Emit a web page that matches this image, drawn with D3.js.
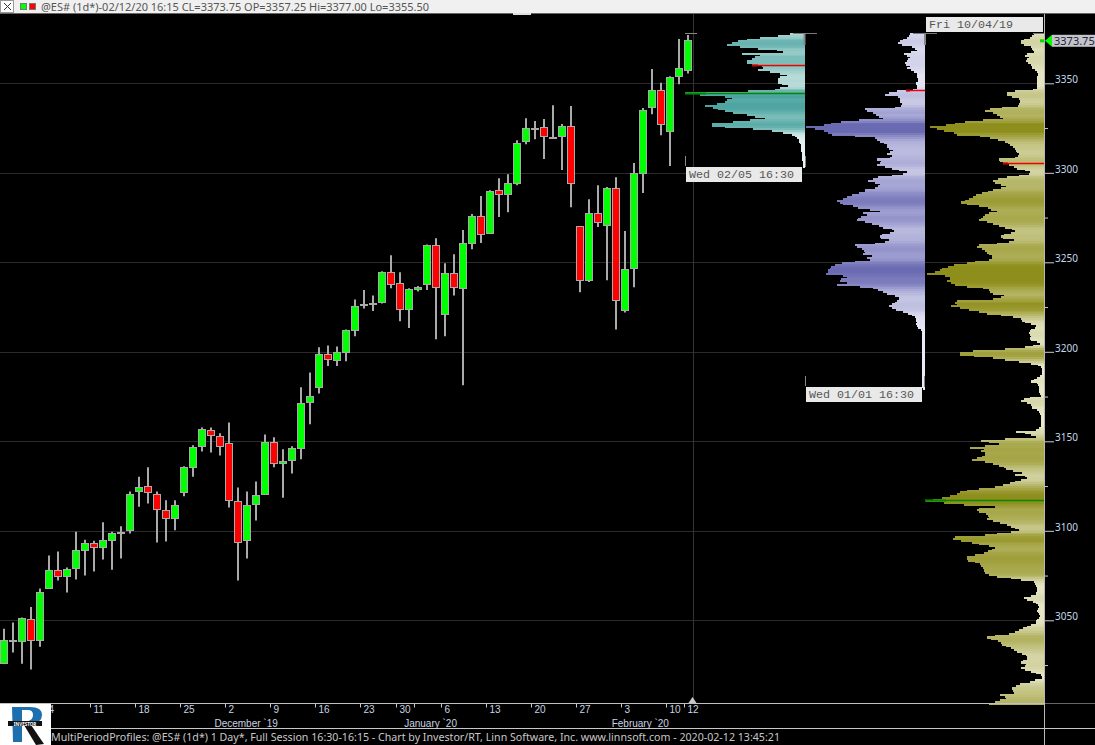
<!DOCTYPE html>
<html>
<head>
<meta charset="utf-8">
<title>MultiPeriodProfiles @ES#</title>
<script src="https://d3js.org/d3.v7.min.js"></script>
<style>
html,body{margin:0;padding:0;background:#000;overflow:hidden}
svg{display:block}
text{font-family:"Noto Sans",sans-serif}
</style>
</head>
<body>
<svg id="chart" width="1095" height="745"></svg>
<script>
// ---------- daily bars ----------
const opens = [3025.75,3038.75,3038,3050.5,3038.75,3067.75,3077.75,3074.5,3079,3089,3093,3090.75,3094.5,3099,3100.25,3122,3124.75,3120.25,3111.25,3107,3121.5,3135.5,3147.25,3156,3152.75,3148.75,3116.5,3094.5,3114.75,3120.25,3149.5,3137.75,3139.25,3146,3171.75,3180.25,3198.5,3195.25,3199.75,3212,3226.5,3227,3227.75,3244.5,3238.25,3223.75,3235,3237.75,3259.5,3221,3244,3235.5,3260.75,3275.75,3266.25,3290.25,3288,3294.25,3317.25,3325,3325.5,3320,3320.5,3326,3270.25,3240,3277.5,3270.75,3291.5,3223.25,3246.75,3299.75,3336.75,3345.75,3323.25,3354,3357.25];
const highs = [3045.25,3048.75,3051.5,3057.5,3067.75,3086.25,3088.5,3079.5,3099.5,3095,3094.5,3104.75,3099.5,3102.5,3122,3130.25,3135.5,3122,3117,3117,3136,3147.75,3157.75,3157.75,3154.5,3160.5,3124.25,3122,3127.5,3153.75,3152.25,3145.5,3147.25,3180.25,3188.5,3202.5,3203.5,3203,3212.5,3229.25,3234.5,3231.5,3245,3254,3244.5,3235.5,3236.75,3260,3263.5,3249.5,3254.5,3268,3277,3287,3290.25,3297,3299.25,3318.25,3330.5,3329,3330,3337.75,3327.25,3337.25,3270.25,3285.25,3293,3292,3297.5,3267.5,3305.5,3336.25,3358,3350.25,3354,3374.75,3377];
const lows = [3025.75,3032,3025.75,3022.5,3035.25,3067.75,3072.25,3065.5,3072.75,3075,3077.25,3084,3078.25,3084.5,3098.5,3113.5,3115.25,3093.5,3094,3100.25,3119.25,3130.25,3144.25,3143.75,3142,3113,3072.25,3084.5,3105.75,3120.25,3135.5,3118.5,3132,3140,3159.5,3176.75,3192,3192,3194.75,3208.75,3224.25,3222.75,3227,3235.5,3217,3213.25,3233.75,3234.5,3207,3208.75,3231.5,3181.25,3257.25,3260.75,3266.25,3275.25,3278,3293,3316,3318.75,3307.75,3319.5,3301.5,3280.75,3233.25,3239,3269.75,3240,3212.5,3222,3236,3288.75,3332.75,3321,3303.75,3349.5,3355.5];
const closes = [3038.75,3038.75,3051,3038.75,3065.5,3077.75,3074.5,3078.25,3089,3093,3090.75,3094.5,3098.5,3099,3120.25,3124.25,3121.5,3112,3107,3114.25,3135.5,3146.5,3156.75,3153.25,3147.25,3117,3093.5,3114.25,3119.75,3149.5,3137.75,3138.75,3146,3171.25,3175,3198.5,3195.75,3199.75,3212,3225.5,3226.5,3227,3244.5,3237.75,3223.75,3235,3236,3259.5,3236,3244,3236,3260.75,3275.75,3265.75,3289.75,3288,3294.25,3316.5,3324.5,3325,3320.5,3320,3326,3294.25,3240,3277.5,3272,3291,3228.75,3246.25,3299.75,3335,3345.75,3326.75,3353.5,3358,3373.75];

// ---------- volume-at-price profiles (one value per point, from the top price downwards) ----------
const profileTopPrice = 3378;
const profileFeb5 = [15,27,45,58,67,73,78,65,47,28,22,63,45,50,53,58,58,53,43,42,47,35,25,18,25,27,27,27,23,17,25,30,57,120,105,80,73,78,80,88,100,92,87,80,72,58,50,40,55,72,93,93,80,52,33,22,13,10,8,6,6,5,4,4,4,4,3,3,3,3,3,2,2,2,2];
const profileJan1 = [15,16,18,22,25,27,23,13,10,8,14,21,18,15,17,18,20,19,15,18,14,11,8,8,8,7,7,9,9,8,8,12,28,36,40,27,25,25,25,23,24,30,60,58,52,49,46,42,66,84,94,101,119,110,101,97,93,70,50,48,45,41,38,38,36,32,35,38,33,35,48,44,45,48,40,33,26,18,22,33,47,52,57,50,45,47,50,60,60,66,73,78,82,88,85,82,72,67,55,45,62,58,64,67,68,60,53,46,42,33,31,35,43,45,44,36,40,50,70,68,63,61,60,62,53,58,55,70,83,90,94,95,97,97,99,82,78,84,85,78,88,65,52,47,42,38,30,26,26,28,30,33,36,33,29,22,17,13,10,9,9,8,9,8,7,4,3,3,3,3,3,3,3,3,3,3,3,3,3,3,3,3,3,3,3,3,3,3,3,3,3,3,3,3,3,3,3,3,2];
const profileOct4 = [11,13,15,21,24,24,21,14,13,12,11,18,20,16,18,19,17,14,13,13,10,8,7,7,8,8,8,8,8,8,8,12,30,38,38,33,26,25,25,26,27,43,55,60,52,48,45,42,62,80,90,99,115,108,101,91,88,65,55,47,40,37,35,32,30,29,28,26,27,30,46,45,42,36,31,28,20,15,16,26,38,47,52,50,44,39,44,52,57,63,69,72,76,80,84,78,66,57,54,48,56,60,62,64,66,58,52,46,40,33,30,34,41,44,42,31,36,48,66,68,63,60,58,56,53,53,56,70,78,91,97,103,105,110,118,100,95,95,98,94,90,78,62,56,55,52,41,44,52,88,90,88,94,85,76,66,58,44,32,24,23,20,14,9,10,14,15,16,15,14,15,14,8,5,12,20,40,72,85,85,71,52,40,26,14,7,4,3,3,3,3,5,8,11,14,8,7,6,6,6,6,5,4,15,21,24,18,14,13,13,8,6,5,4,4,4,4,4,4,4,6,9,29,20,14,9,40,64,56,46,60,75,61,64,60,60,63,68,73,60,52,46,41,39,32,23,30,20,18,24,30,35,42,50,66,78,85,88,95,103,112,119,101,81,50,66,68,66,59,57,56,58,52,45,38,34,30,26,34,48,60,90,92,84,73,66,56,50,53,57,61,70,78,78,77,70,65,64,62,61,61,60,56,48,34,24,11,10,9,8,8,8,9,9,14,21,18,12,9,7,6,7,8,7,6,5,6,8,9,9,14,18,22,26,30,36,50,58,54,47,44,43,39,34,31,28,23,19,18,18,22,24,19,20,24,20,14,9,4,3,3,10,15,25,29,33,33,32,31,45,40,39,45,50,56];
const pocFeb5 = 3344.5, vahFeb5 = 3360.5;
const vahJan1 = 3346.25;
const pocOct4 = 3117.25, vahOct4 = 3305.75;

// ---------- axis labels ----------
const majorPrices = [3350,3300,3250,3200,3150,3100,3050];
const minorPrices = [3325,3275,3225,3175,3125,3075,3025];
const dayTickBars = [5,10,15,20,25,30,35,40,44,46,49,54,59,64,69,74,76];
const dayTickLabels = ["4","11","18","25","2","9","16","23","30","","6","13","20","27","3","10","12"];
const monthBars = [26.9,47.4,70.7];
const monthLabels = ["December `19","January `20","February `20"];
const lastPrice = 3373.75;
const titleText = "@ES# (1d*)-02/12/20 16:15 CL=3373.75 OP=3357.25 Hi=3377.00 Lo=3355.50";
const footerText = "MultiPeriodProfiles: @ES# (1d*) 1 Day*, Full Session 16:30-16:15 - Chart by Investor/RT, Linn Software, Inc. www.linnsoft.com - 2020-02-12 13:45:21";

// ---------- scales ----------
const W = 1095, H = 745;
const svg = d3.select("#chart");
const x = d3.scaleLinear().domain([0, 76]).range([4, 688]);
const y = d3.scaleLinear().domain([3350, 3050]).range([83.3, 620.3]);
const bars = d3.range(opens.length);
const axisRight = 1045, plotBottom = 703.5;
const smallFont = '"Liberation Sans",sans-serif';

// ---------- grid ----------
svg.append("g").selectAll("line").data(majorPrices).join("line")
  .attr("x1", 0).attr("x2", axisRight)
  .attr("y1", d => Math.round(y(d)) + 0.5).attr("y2", d => Math.round(y(d)) + 0.5)
  .attr("stroke", "#2b2b2b");
svg.append("line").attr("x1", 693.5).attr("x2", 693.5).attr("y1", 13).attr("y2", plotBottom).attr("stroke", "#333");

// ---------- profiles ----------
function drawProfile(values, baseX, colors) {
  const vol = d3.scaleLinear().domain([0, 120]).range([0, 120]);
  const col = d3.scaleLinear().domain([0, 20, 55, 95]).range(colors).clamp(true);
  const shade = values.map((d, i) => d3.mean(values.slice(Math.max(0, i - 2), i + 3)));
  svg.append("g").attr("shape-rendering", "crispEdges")
    .selectAll("rect").data(values).join("rect")
    .attr("x", d => baseX - vol(d))
    .attr("width", d => vol(d))
    .attr("y", (d, i) => y(profileTopPrice - i))
    .attr("height", (d, i) => y(profileTopPrice - i - 1) - y(profileTopPrice - i) + 0.3)
    .attr("fill", (d, i) => col(shade[i]));
}
drawProfile(profileFeb5, 805, ["#eef7f6", "#bfdfdc", "#79bcb9", "#46a09d"]);
drawProfile(profileJan1, 925, ["#f0f0fa", "#cfcfe8", "#a0a0d2", "#6a6ab2"]);
drawProfile(profileOct4, 1044.5, ["#f0f0d8", "#d4d4a6", "#adad56", "#8e8e1c"]);

function level(price, x1, x2, color, w) {
  const yy = Math.round(y(price)) + 0.5;
  svg.append("line").attr("x1", x1).attr("x2", x2).attr("y1", yy).attr("y2", yy)
    .attr("stroke", color).attr("stroke-width", w || 1);
}
level(vahFeb5, 752, 805, "#f00000", 1.5);
level(vahFeb5, 752, 758, "#c00000", 2);
level(pocFeb5, 685, 805, "#008a00", 1.5);
level(pocFeb5, 685, 706, "#008a00", 2);
level(vahJan1, 906, 925, "#f00000", 1.5);
level(vahJan1, 906, 910, "#c00000", 2);
level(vahOct4, 1003, 1044, "#f00000", 1.5);
level(vahOct4, 1003, 1008, "#c00000", 2);
level(pocOct4, 925, 1044, "#008a00", 1.5);
level(pocOct4, 925, 946, "#008a00", 2);

// range brackets
function seg(x1, y1, x2, y2, color, w) {
  svg.append("line").attr("x1", x1).attr("y1", y1).attr("x2", x2).attr("y2", y2)
    .attr("stroke", color).attr("stroke-width", w || 1);
}
seg(685, 33.5, 697, 33.5, "#888");
seg(793, 33.5, 817, 33.5, "#777");
seg(804.5, 33, 804.5, 45, "#888", 2);
seg(913, 33.5, 937, 33.5, "#777");
seg(925, 33, 925, 45, "#888", 2);
seg(1033, 33.5, 1045, 33.5, "#777");
seg(685.5, 156, 685.5, 166, "#888");
seg(805.5, 156, 805.5, 167, "#888");
seg(805.5, 376, 805.5, 386, "#888");
seg(924.5, 376, 924.5, 387, "#888");

// ---------- candles ----------
const candles = svg.append("g");
candles.selectAll("line").data(bars).join("line")
  .attr("x1", i => x(i)).attr("x2", i => x(i))
  .attr("y1", i => y(highs[i])).attr("y2", i => y(lows[i]))
  .attr("stroke", "#aaa").attr("stroke-width", 2);
candles.selectAll("rect").data(bars).join("rect")
  .attr("shape-rendering", "crispEdges")
  .attr("x", i => x(i) - 3.5)
  .attr("width", 7)
  .attr("y", i => y(Math.max(opens[i], closes[i])))
  .attr("height", i => Math.max(opens[i] === closes[i] ? 1 : 2, Math.abs(y(opens[i]) - y(closes[i]))))
  .attr("fill", i => opens[i] === closes[i] ? "#aaa" : closes[i] > opens[i] ? "#00ff00" : "#ff0000")
  .attr("stroke", "#aaa");

// ---------- date boxes ----------
function dateBox(label, bx, by, bw, bh) {
  svg.append("rect").attr("x", bx).attr("y", by).attr("width", bw).attr("height", bh).attr("fill", "#e9e9e9");
  svg.append("text").attr("x", bx + 3).attr("y", by + bh - 4).text(label)
    .style("font-family", '"Liberation Mono",monospace').style("font-size", "11.67px").attr("fill", "#555");
}
dateBox("Wed 02/05 16:30", 686, 167, 116, 15);
dateBox("Wed 01/01 16:30", 806, 387, 116, 15);
dateBox("Fri 10/04/19", 926, 17, 117, 15);

// ---------- price axis ----------
const gMinor = svg.append("g").attr("transform", `translate(${axisRight},0)`)
  .call(d3.axisRight(y).tickValues(minorPrices).tickSize(3).tickFormat(""));
gMinor.select(".domain").remove();
gMinor.selectAll("line").attr("stroke", "#ccc");
const gMajor = svg.append("g").attr("transform", `translate(${axisRight},0)`)
  .call(d3.axisRight(y).tickValues(majorPrices).tickSize(9).tickPadding(1).tickFormat(d3.format("d")));
gMajor.select(".domain").remove();
gMajor.selectAll("line").attr("stroke", "#ccc");
gMajor.selectAll("text").attr("fill", "#c4d8ec").attr("dy", "-0.05em")
  .style("font-family", '"Noto Sans",sans-serif').style("font-size", "10px");
seg(axisRight - 0.5, 13, axisRight - 0.5, H, "#b8b8b8", 1);

// last price
svg.append("path")
  .attr("d", d3.line()([[1045, y(lastPrice)], [1052, y(lastPrice) - 6], [1052, y(lastPrice) + 6]]))
  .attr("fill", "#00ff00");
svg.append("rect").attr("x", 1040).attr("y", y(lastPrice) - 1.5).attr("width", 4).attr("height", 3).attr("fill", "#00e000");
svg.append("rect").attr("x", 1052).attr("y", y(lastPrice) - 6).attr("width", 43).attr("height", 12).attr("fill", "#c4c4c8");
svg.append("text").attr("x", 1054).attr("y", y(lastPrice) + 4).text(d3.format(".2f")(lastPrice))
  .attr("fill", "#222244").style("font-size", "11px");

// ---------- frame + time axis ----------
seg(0, plotBottom, axisRight, plotBottom, "#c0c0c0");
seg(axisRight, plotBottom, W, plotBottom, "#666");
seg(51, 728.5, W, 728.5, "#c8c8c8");
svg.append("path")
  .attr("d", d3.line()([[x(76) + 4.5, 697], [x(76) + 0.5, 703], [x(76) + 8.5, 703]]))
  .attr("fill", "#c8c8c8");

const xTick = x.copy().range([x.range()[0] - 4, x.range()[1] - 4]);
const gTime = svg.append("g").attr("transform", `translate(0,${plotBottom})`)
  .call(d3.axisBottom(xTick).tickValues(dayTickBars).tickSize(4).tickPadding(0)
    .tickFormat(d => dayTickLabels[dayTickBars.indexOf(d)]));
gTime.select(".domain").remove();
gTime.selectAll("line").attr("stroke", "#c8c8c8");
gTime.selectAll("text").attr("text-anchor", "start").attr("dx", 3).attr("fill", "#c8d4e0")
  .attr("dy", "0.55em")
  .style("font-family", smallFont).style("font-size", "10px");
svg.append("g").selectAll("text").data(monthLabels).join("text")
  .attr("x", (d, i) => x(monthBars[i])).attr("y", 726.5)
  .attr("fill", "#c8d4e0").attr("text-anchor", "middle")
  .style("font-family", smallFont).style("font-size", "10px")
  .text(d => d);

// footer
svg.append("text").attr("x", 51).attr("y", 741).text(footerText)
  .attr("fill", "#c8c8c8").style("font-size", "11px")
  .attr("textLength", 729).attr("lengthAdjust", "spacingAndGlyphs");

// logo: blue R mark, black leg and strip with the small wordmark
const logo = svg.append("g");
logo.append("rect").attr("x", 0).attr("y", 704).attr("width", 51).attr("height", 41).attr("fill", "#fff");
logo.append("path").attr("fill-rule", "evenodd").attr("fill", "#1d6fae")
  .attr("d", "M12 707H30Q42 707 42 715Q42 723 30 724H22V742H13ZM22 710H28Q33 710 33 715Q33 720 28 721H22Z");
logo.append("path").attr("d", "M24 725L31 725L44 744L36 745Z").attr("fill", "#111");
logo.append("rect").attr("x", 8).attr("y", 721).attr("width", 34).attr("height", 5).attr("fill", "#111");
logo.append("text").attr("x", 25).attr("y", 725.5).text("INVESTOR").attr("text-anchor", "middle")
  .attr("fill", "#fff").style("font-size", "4.5px").style("font-weight", "bold");

// ---------- title bar ----------
svg.append("rect").attr("x", 0).attr("y", 0).attr("width", W).attr("height", 13).attr("fill", "#f0f0f0");
seg(0, 13.5, W, 13.5, "#666");
svg.append("rect").attr("x", 513).attr("y", 13).attr("width", 18).attr("height", 2).attr("fill", "#e0e0e0");
svg.append("rect").attr("x", 0.5).attr("y", 0.5).attr("width", 13).attr("height", 12).attr("fill", "#fff").attr("stroke", "#999");
seg(4, 3, 11, 10, "#333");
seg(11, 3, 4, 10, "#333");
svg.append("rect").attr("x", 20.5).attr("y", 3.5).attr("width", 6).attr("height", 6).attr("fill", "#00ff00").attr("stroke", "#777");
svg.append("rect").attr("x", 29.5).attr("y", 3.5).attr("width", 6).attr("height", 6).attr("fill", "#ff0000").attr("stroke", "#777");
svg.append("text").attr("x", 41).attr("y", 10.5).text(titleText)
  .attr("fill", "#555").style("font-size", "11px")
  .attr("textLength", 388).attr("lengthAdjust", "spacingAndGlyphs");
</script>
</body>
</html>
